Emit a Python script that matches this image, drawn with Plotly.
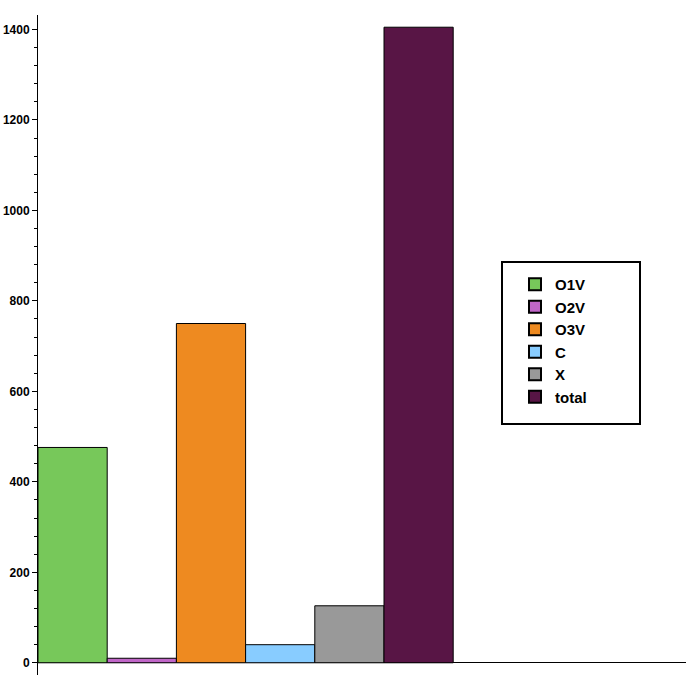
import plotly.graph_objects as go

categories = ["O1V", "O2V", "O3V", "C", "X", "total"]
values = [476, 10, 750, 40, 126, 1405]
colors = ["#77c85a", "#c066c8", "#ee8a20", "#88ccff", "#999999", "#581545"]

W, H = 690, 690
L, T, R, B = 38, 15, 4, 15

fig = go.Figure()
for i, (name, val, col) in enumerate(zip(categories, values, colors)):
    fig.add_trace(go.Bar(
        x=[i], y=[val], width=1, name=name,
        marker=dict(color=col, line=dict(color="black", width=1)),
    ))

pw, ph = W - L - R, H - T - B

fig.update_layout(
    width=W, height=H,
    margin=dict(l=L, r=R, t=T, b=B, autoexpand=False),
    plot_bgcolor="white", paper_bgcolor="white",
    barmode="overlay",
    showlegend=True,
    legend=dict(
        x=(515 - 38) / pw, y=(675 - 268) / ph, xanchor="left", yanchor="top",
        bgcolor="rgba(0,0,0,0)", borderwidth=0,
        font=dict(family="Arial, Liberation Sans", size=15, color="black", weight="bold"),
        tracegroupgap=0, itemsizing="constant",
    ),
    font=dict(family="Liberation Sans", color="black"),
)
# legend frame
fig.add_shape(type="rect", xref="paper", yref="paper",
              x0=(502 - 38) / pw, x1=(640 - 38) / pw,
              y0=(675 - 424) / ph, y1=(675 - 262) / ph,
              line=dict(color="black", width=2), fillcolor="rgba(0,0,0,0)")

fig.update_xaxes(range=[-0.5, pw / 69.2 - 0.5], showticklabels=False, showline=False,
                 showgrid=False, zeroline=False, ticks="")
fig.update_yaxes(range=[-27, 1432], showline=True, linecolor="black", linewidth=1,
                 showgrid=False, zeroline=True, zerolinecolor="black", zerolinewidth=1,
                 tickmode="linear", tick0=0, dtick=200, ticks="outside", ticklen=5,
                 tickcolor="black",
                 minor=dict(dtick=40, ticks="outside", ticklen=3, tickcolor="black", showgrid=False),
                 tickfont=dict(family="Liberation Sans", size=12, color="black", weight="bold"))

fig.write_html("out.html", config={"displayModeBar": False},
               post_script="document.body.style.margin='0';")
